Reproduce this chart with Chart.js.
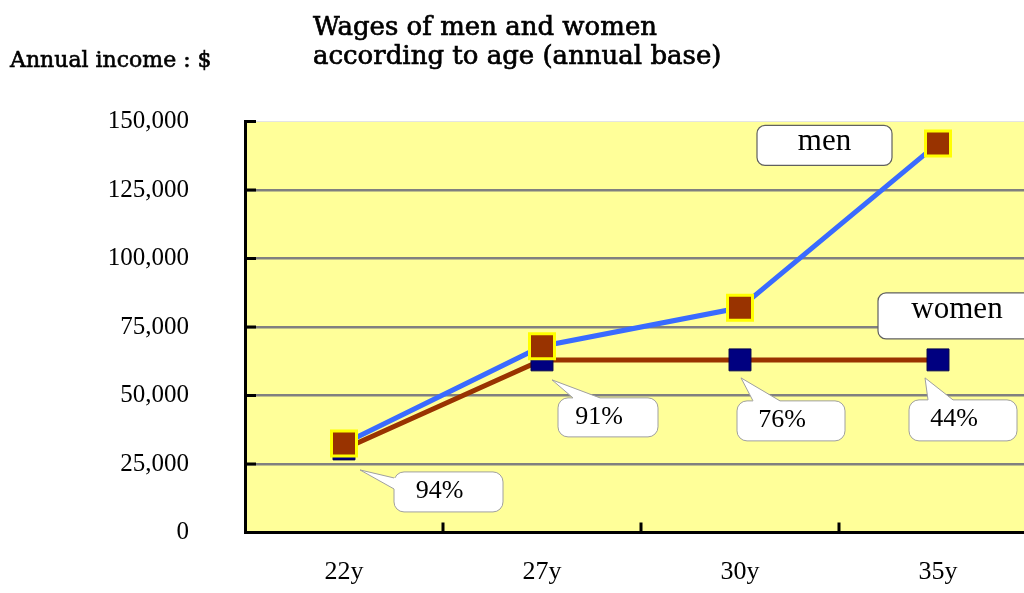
<!DOCTYPE html>
<html>
<head>
<meta charset="utf-8">
<script src="https://cdn.jsdelivr.net/npm/chart.js@4"></script>
<style>
    html, body { margin: 0; padding: 0; background: #fff; overflow: hidden; }
    #wrap { position: relative; width: 1040px; height: 593px; }
    #wrap canvas { position: absolute; left: 0; top: 0; }
    .chart-title {
        position: absolute; left: 313px; top: 11.5px;
        font-family: 'DejaVu Serif'; font-size: 26px; line-height: 29px;
        color: #000; white-space: nowrap; -webkit-text-stroke: 0.7px #000;
    }
    .y-title {
        position: absolute; left: 10px; top: 49px;
        font-family: 'DejaVu Serif'; font-size: 22px; line-height: 22px;
        color: #000; white-space: nowrap; -webkit-text-stroke: 0.6px #000;
    }
</style>
</head>
<body>
<div id="wrap">
    <canvas id="wage-chart" width="1040" height="593"></canvas>
    <div class="chart-title">Wages of men and women<br>according to age (annual base)</div>
    <div class="y-title">Annual income : $</div>
</div>
<script>
// 資料
const ages = ['22y', '27y', '30y', '35y'];
const menWages = [32500, 68000, 82000, 142000];
const womenWages = [30500, 63000, 63000, 63000];
const ratioLabels = ['94%', '91%', '76%', '44%'];
const yMin = 0;
const yMax = 150000;
const yStep = 25000;

// 對話框位置 (相對於女性資料點)
const calloutSpots = [
    { tip: [16, 21], box: [50, 23, 109, 40], side: 'left', base: [6, 17] },
    { tip: [10, 20], box: [16, 38, 100, 39], side: 'top', base: [15, 42] },
    { tip: [1, 18], box: [-3, 41, 108, 40], side: 'top', base: [16, 43] },
    { tip: [-13, 18], box: [-29, 40, 108, 41], side: 'top', base: [19, 44] }
];

let plotBackground = {
    id: 'plotBackground',
    beforeDraw: (chart) => {
        let { ctx, chartArea: a } = chart;
        ctx.save();
        ctx.fillStyle = '#ffff99';
        ctx.fillRect(a.left, a.top, a.right - a.left, a.bottom - a.top);
        ctx.restore();
    }
};

// 刻度朝內
let innerTicks = {
    id: 'innerTicks',
    beforeDatasetsDraw: (chart) => {
        let { ctx, chartArea: a, scales: { x, y } } = chart;
        ctx.save();
        ctx.strokeStyle = '#000';
        ctx.lineWidth = 3;
        ctx.beginPath();
        y.ticks.forEach((t) => {
            if (t.value === yMin) return;
            let py = y.getPixelForValue(t.value);
            ctx.moveTo(a.left, py);
            ctx.lineTo(a.left + 11, py);
        });
        for (let i = 1; i < ages.length; i++) {
            let px = (x.getPixelForValue(i - 1) + x.getPixelForValue(i)) / 2;
            ctx.moveTo(px, a.bottom);
            ctx.lineTo(px, a.bottom - 10);
        }
        ctx.stroke();
        ctx.restore();
    }
};

let drawCallout = (ctx, px, py, c, text) => {
    let bx = px + c.box[0], by = py + c.box[1], bw = c.box[2], bh = c.box[3];
    ctx.fillStyle = '#fff';
    ctx.strokeStyle = '#a0a0a0';
    ctx.lineWidth = 1;
    ctx.beginPath();
    ctx.roundRect(bx, by, bw, bh, 10);
    ctx.fill();
    ctx.stroke();

    let tip = [px + c.tip[0], py + c.tip[1]];
    let b1, b2, in1, in2;
    if (c.side === 'left') {
        b1 = [bx, by + c.base[0]]; b2 = [bx, by + c.base[1]];
        in1 = [bx + 3, b1[1]]; in2 = [bx + 3, b2[1]];
    } else {
        b1 = [bx + c.base[0], by]; b2 = [bx + c.base[1], by];
        in1 = [b1[0], by + 3]; in2 = [b2[0], by + 3];
    }
    ctx.beginPath();
    ctx.moveTo(tip[0], tip[1]);
    ctx.lineTo(b1[0], b1[1]);
    ctx.lineTo(in1[0], in1[1]);
    ctx.lineTo(in2[0], in2[1]);
    ctx.lineTo(b2[0], b2[1]);
    ctx.closePath();
    ctx.fill();
    ctx.beginPath();
    ctx.moveTo(b1[0], b1[1]);
    ctx.lineTo(tip[0], tip[1]);
    ctx.lineTo(b2[0], b2[1]);
    ctx.stroke();

    ctx.fillStyle = '#000';
    ctx.font = '26px "Liberation Serif"';
    ctx.textAlign = 'center';
    ctx.textBaseline = 'alphabetic';
    ctx.fillText(text, bx + bw / 2 - 9, by + 26);
};

let drawNameBox = (ctx, x, y, w, h, text, tx) => {
    ctx.fillStyle = '#fff';
    ctx.strokeStyle = '#606060';
    ctx.lineWidth = 1.2;
    ctx.beginPath();
    ctx.roundRect(x, y, w, h, 8);
    ctx.fill();
    ctx.stroke();
    ctx.fillStyle = '#000';
    ctx.font = '31px "Liberation Serif"';
    ctx.textAlign = 'center';
    ctx.textBaseline = 'alphabetic';
    ctx.fillText(text, tx, y + 25);
};

let callouts = {
    id: 'callouts',
    afterDatasetsDraw: (chart) => {
        let ctx = chart.ctx;
        let menPts = chart.getDatasetMeta(0).data;
        let womenPts = chart.getDatasetMeta(1).data;
        ctx.save();
        womenPts.forEach((p, i) => drawCallout(ctx, p.x, p.y, calloutSpots[i], ratioLabels[i]));
        let lastMen = menPts[menPts.length - 1];
        let lastWomen = womenPts[womenPts.length - 1];
        drawNameBox(ctx, lastMen.x - 181, lastMen.y - 18, 135, 40, 'men', lastMen.x - 113.5);
        drawNameBox(ctx, lastWomen.x - 60, lastWomen.y - 67, 158, 46, 'women', lastWomen.x + 19);
        ctx.restore();
    }
};

// 取消標籤外溢的預留空間
let noOverflow = (s) => {
    s.paddingLeft = 0;
    s.paddingRight = 0;
    s.paddingTop = 0;
    s.paddingBottom = 0;
};

new Chart(document.getElementById('wage-chart'), {
    type: 'line',
    data: {
        labels: ages,
        datasets: [
            {
                label: 'men',
                data: menWages,
                borderColor: '#3a6bff',
                borderWidth: 5,
                pointStyle: 'rect',
                pointRadius: 17.7,
                pointBackgroundColor: '#993300',
                pointBorderColor: '#ffff00',
                pointBorderWidth: 3,
                tension: 0
            },
            {
                label: 'women',
                data: womenWages,
                borderColor: '#993300',
                borderWidth: 5,
                pointStyle: 'rect',
                pointRadius: 15.5,
                pointBackgroundColor: '#000080',
                pointBorderColor: '#00004d',
                pointBorderWidth: 1,
                tension: 0
            }
        ]
    },
    options: {
        responsive: false,
        animation: false,
        layout: { autoPadding: false, padding: { top: 121.5, right: 3, left: 0, bottom: 0 } },
        plugins: { legend: { display: false }, tooltip: { enabled: false } },
        scales: {
            x: {
                offset: true,
                ticks: { padding: 24, color: '#000', font: { family: 'Liberation Serif', size: 26 } },
                grid: { display: false, drawTicks: false },
                border: { color: '#000', width: 3 },
                afterFit: (s) => { s.height = 60.5; noOverflow(s); }
            },
            y: {
                min: yMin,
                max: yMax,
                ticks: {
                    stepSize: yStep,
                    padding: 56,
                    color: '#000',
                    font: { family: 'Liberation Serif', size: 25 },
                    callback: (v) => v.toLocaleString('en-US')
                },
                grid: {
                    drawTicks: false,
                    color: (c) => c.tick.value === yMax ? '#e4e4e4' : (c.tick.value === yMin ? 'rgba(0,0,0,0)' : '#808080'),
                    lineWidth: (c) => c.tick.value === yMax ? 1 : 2.5
                },
                border: { color: '#000', width: 3 },
                afterFit: (s) => { s.width = 245; noOverflow(s); }
            }
        }
    },
    plugins: [plotBackground, innerTicks, callouts]
});
</script>
</body>
</html>
